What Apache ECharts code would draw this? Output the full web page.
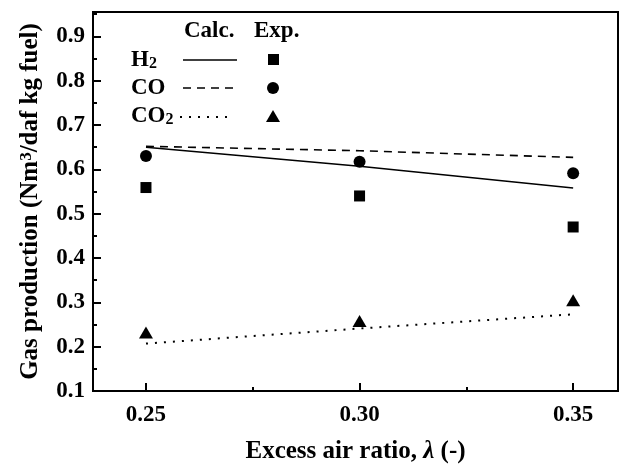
<!DOCTYPE html>
<html>
<head>
<meta charset="utf-8">
<script src="https://cdn.jsdelivr.net/npm/echarts@6/dist/echarts.min.js"></script>
<style>
html,body{margin:0;padding:0;background:#fff;}
#chart{width:620px;height:469px;}
</style>
</head>
<body>
<div id="chart"></div>
<script>
// ---- data ----
const xCalc = [0.25, 0.30, 0.35];
const h2Calc = [0.650, 0.607, 0.558];
const coCalc = [0.652, 0.642, 0.627];
const co2Calc = [0.207, 0.241, 0.273];

const xExp = [0.25, 0.30, 0.35];
const h2Exp = [0.559, 0.540, 0.470];
const coExp = [0.630, 0.617, 0.591];
const co2Exp = [0.232, 0.258, 0.305];

const xTicks = [0.25, 0.30, 0.35];
const xMinorTicks = [0.275, 0.325];
const yTicks = [0.1, 0.2, 0.3, 0.4, 0.5, 0.6, 0.7, 0.8, 0.9];
const yMinorTicks = [0.15, 0.25, 0.35, 0.45, 0.55, 0.65, 0.75, 0.85, 0.95];

const FONT = '"Liberation Serif", "Times New Roman", serif';
const X_MIN = 0.2376, X_MAX = 0.3605, Y_MIN = 0.1, Y_MAX = 0.955;

const pair = (xs, ys) => xs.map((x, i) => [x, ys[i]]);

const chart = echarts.init(document.getElementById('chart'), null, {renderer: 'canvas'});

const baseText = {fontFamily: FONT, fontWeight: 'bold', color: '#000'};

const option = {
  animation: false,
  backgroundColor: '#fff',
  grid: {left: 93, right: 2, top: 12, bottom: 78, show: true, borderColor: '#000', borderWidth: 2, containLabel: false},
  xAxis: [
    {
      type: 'value', min: X_MIN, max: X_MAX,
      name: '{b|Excess air ratio, }{i|λ}{b| (-)}',
      nameLocation: 'middle', nameGap: 48,
      nameTextStyle: {rich: {
        b: Object.assign({fontSize: 25}, baseText),
        i: Object.assign({fontSize: 25, fontStyle: 'italic'}, baseText)
      }},
      axisLine: {show: true, lineStyle: {color: '#000', width: 2}},
      axisTick: {show: true, inside: true, length: 8, customValues: xTicks, lineStyle: {color: '#000', width: 2}},
      axisLabel: Object.assign({fontSize: 23, margin: 13, customValues: xTicks, formatter: v => v.toFixed(2)}, baseText),
      splitLine: {show: false}
    },
    {
      type: 'value', min: X_MIN, max: X_MAX, position: 'bottom',
      axisLine: {show: false},
      axisTick: {show: true, inside: true, length: 4, customValues: xMinorTicks, lineStyle: {color: '#000', width: 2}},
      axisLabel: {show: false},
      splitLine: {show: false}
    }
  ],
  yAxis: [
    {
      type: 'value', min: Y_MIN, max: Y_MAX,
      name: 'Gas production (Nm{sup|3}/daf kg fuel)',
      nameLocation: 'middle', nameGap: 50, nameRotate: 90,
      nameTextStyle: Object.assign({fontSize: 25, rich: {
        sup: Object.assign({fontSize: 17, verticalAlign: 'top', padding: [0, 0, 8, 0]}, baseText)
      }}, baseText),
      axisLine: {show: true, lineStyle: {color: '#000', width: 2}},
      axisTick: {show: true, inside: true, length: 8, customValues: yTicks, lineStyle: {color: '#000', width: 2}},
      axisLabel: Object.assign({fontSize: 23, margin: 8, customValues: yTicks, formatter: v => v.toFixed(1)}, baseText),
      splitLine: {show: false}
    },
    {
      type: 'value', min: Y_MIN, max: Y_MAX, position: 'left',
      axisLine: {show: false},
      axisTick: {show: true, inside: true, length: 4, customValues: yMinorTicks, lineStyle: {color: '#000', width: 2}},
      axisLabel: {show: false},
      splitLine: {show: false}
    }
  ],
  series: [
    {name: 'H2 calc', type: 'line', data: pair(xCalc, h2Calc), showSymbol: false, symbol: 'none',
      lineStyle: {color: '#000', width: 1.6, type: 'solid'}},
    {name: 'CO calc', type: 'line', data: pair(xCalc, coCalc), showSymbol: false, symbol: 'none',
      lineStyle: {color: '#000', width: 1.6, type: [8, 6]}},
    {name: 'CO2 calc', type: 'line', data: pair(xCalc, co2Calc), showSymbol: false, symbol: 'none',
      lineStyle: {color: '#000', width: 2, type: [2, 7]}},
    {name: 'H2 exp', type: 'scatter', data: pair(xExp, h2Exp), symbol: 'rect', symbolSize: 11,
      itemStyle: {color: '#000', opacity: 1}},
    {name: 'CO exp', type: 'scatter', data: pair(xExp, coExp), symbol: 'circle', symbolSize: 12,
      itemStyle: {color: '#000', opacity: 1}},
    {name: 'CO2 exp', type: 'scatter', data: pair(xExp, co2Exp), symbol: 'triangle', symbolSize: [14, 12],
      itemStyle: {color: '#000', opacity: 1}}
  ],
  graphic: [
    {type: 'text', left: 184, top: 20, style: {text: 'Calc.', font: 'bold 23px ' + FONT, fill: '#000'}},
    {type: 'text', left: 254, top: 20, style: {text: 'Exp.', font: 'bold 23px ' + FONT, fill: '#000'}},
    {type: 'text', left: 131, top: 49, style: {text: 'H{s|2}', font: 'bold 23px ' + FONT, fill: '#000',
      rich: {s: {fontSize: 16, fontWeight: 'bold', fontFamily: FONT, verticalAlign: 'bottom', padding: [7, 0, 0, 0]}}}},
    {type: 'text', left: 131, top: 77, style: {text: 'CO', font: 'bold 23px ' + FONT, fill: '#000'}},
    {type: 'text', left: 131, top: 105, style: {text: 'CO{s|2}', font: 'bold 23px ' + FONT, fill: '#000',
      rich: {s: {fontSize: 16, fontWeight: 'bold', fontFamily: FONT, verticalAlign: 'bottom', padding: [7, 0, 0, 0]}}}},
    {type: 'line', shape: {x1: 183, y1: 60, x2: 237, y2: 60}, style: {stroke: '#000', lineWidth: 1.6}},
    {type: 'line', shape: {x1: 183, y1: 88, x2: 237, y2: 88}, style: {stroke: '#000', lineWidth: 1.6, lineDash: [8, 6]}},
    {type: 'line', shape: {x1: 180, y1: 117, x2: 234, y2: 117}, style: {stroke: '#000', lineWidth: 2, lineDash: [2, 7]}},
    {type: 'rect', shape: {x: 268, y: 54, width: 11, height: 11}, style: {fill: '#000'}},
    {type: 'circle', shape: {cx: 273, cy: 88, r: 6}, style: {fill: '#000'}},
    {type: 'polygon', shape: {points: [[273, 110], [280, 122], [266, 122]]}, style: {fill: '#000'}}
  ]
};
chart.setOption(option);
</script>
</body>
</html>
